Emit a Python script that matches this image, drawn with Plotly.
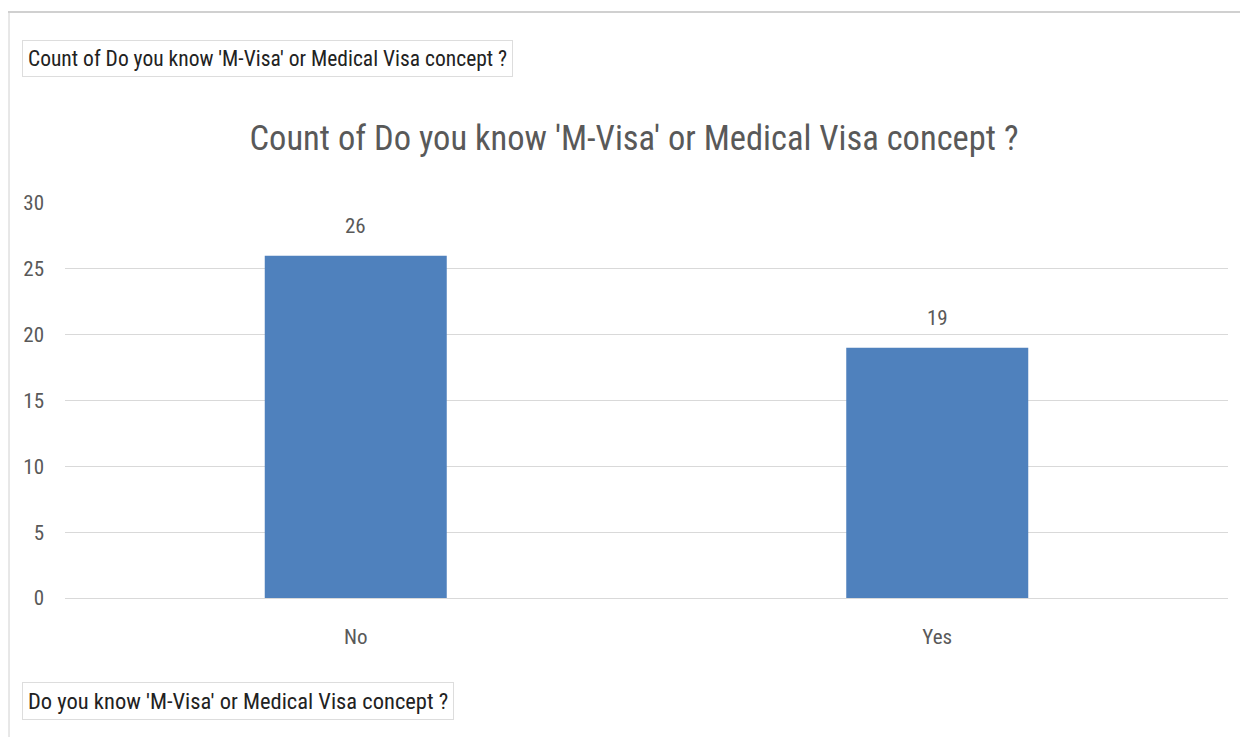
import plotly.graph_objects as go

categories = ["No", "Yes"]
counts = [26, 19]
y_ticks = [0, 5, 10, 15, 20, 25, 30]

FONT = "Liberation Sans Narrow, Roboto Condensed, Arial Narrow, sans-serif"
GRAY = "#595959"

# page has an 8px body margin; compensate so content lands at the target pixels
OFF = 8
W, H = 1248 - OFF, 737 - OFF
L, R, T, B = 65 - OFF, 20, 203 - OFF, 139
PW, PH = W - L - R, H - T - B

def px_x(x):  # absolute screen x -> paper
    return (x - OFF - L) / PW

def px_y(y):  # absolute screen y -> paper
    return 1 - (y - OFF - T) / PH

fig = go.Figure()
fig.add_trace(go.Bar(
    x=categories, y=counts,
    marker=dict(color="#4f81bd", line=dict(width=0)),
    showlegend=False,
))
for c, v in zip(categories, counts):
    fig.add_annotation(x=c, y=v, text=str(v), showarrow=False, yshift=30,
                       font=dict(size=21, color=GRAY, family=FONT))

fig.update_layout(
    width=W, height=H,
    margin=dict(l=L, r=R, t=T, b=B),
    paper_bgcolor="white", plot_bgcolor="white",
    bargap=0.687,
    showlegend=False,
    font=dict(family=FONT, color=GRAY),
    title=dict(text="Count of Do you know 'M-Visa' or Medical Visa concept ?",
               xref="container", yref="container",
               x=(634 - OFF) / W, xanchor="center", y=1 - (138 - OFF) / H, yanchor="middle",
               font=dict(size=34.5, color=GRAY, family=FONT)),
    yaxis=dict(range=[0, 30], tickvals=y_ticks, showgrid=True,
               gridcolor="#d9d9d9", gridwidth=1, zeroline=False,
               tickfont=dict(size=21, color=GRAY), ticks="", ticklabelstandoff=20,
               showline=False, fixedrange=True),
    xaxis=dict(tickfont=dict(size=21, color=GRAY), ticks="", showline=True,
               linecolor="#d9d9d9", linewidth=1, ticklabelstandoff=20),
)

# outer chart frame
fig.add_shape(type="line", xref="paper", yref="paper", x0=px_x(8), x1=px_x(1260),
              y0=px_y(12), y1=px_y(12), line=dict(color="#d0d0d0", width=2))
fig.add_shape(type="line", xref="paper", yref="paper", x0=px_x(9), x1=px_x(9),
              y0=px_y(12), y1=px_y(745), line=dict(color="#d0d0d0", width=1))

# field buttons
fig.add_annotation(text="Count of Do you know 'M-Visa' or Medical Visa concept ?",
                   xref="paper", yref="paper", x=px_x(22), y=px_y(58),
                   xanchor="left", yanchor="middle", showarrow=False,
                   font=dict(size=21.5, color="#222222", family=FONT),
                   bordercolor="#dddddd", borderwidth=1, borderpad=5, bgcolor="white")
fig.add_annotation(text="Do you know 'M-Visa' or Medical Visa concept ?",
                   xref="paper", yref="paper", x=px_x(22), y=px_y(701),
                   xanchor="left", yanchor="middle", showarrow=False,
                   font=dict(size=22.5, color="#222222", family=FONT),
                   bordercolor="#dddddd", borderwidth=1, borderpad=5, bgcolor="white")

fig.write_html("out.html")
